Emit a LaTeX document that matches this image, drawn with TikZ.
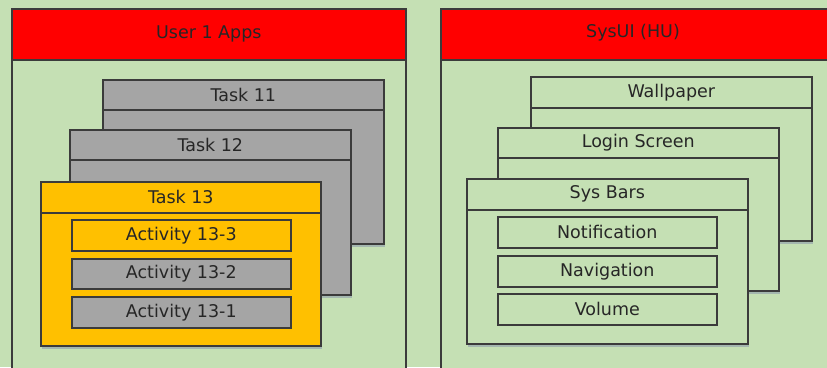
\documentclass[tikz,border=0pt]{standalone}
\usepackage{fontspec}
\setmainfont{DejaVu Sans}
\usetikzlibrary{shadows}
\definecolor{bggreen}{HTML}{C5E0B4}
\definecolor{hdred}{HTML}{FF0000}
\definecolor{taskgray}{HTML}{A5A5A5}
\definecolor{taskgold}{HTML}{FFC000}
\definecolor{edgegray}{HTML}{3B3B3B}
\definecolor{txtgray}{HTML}{262626}
\tikzset{
  box/.style={draw=edgegray,line width=1.6pt,anchor=north west,inner sep=0pt,
    text=txtgray,font=\fontsize{17.5}{19}\selectfont},
  win/.style={box,drop shadow={shadow xshift=1pt,shadow yshift=-3pt,
    fill=blue!30!gray,opacity=.3}},
}
\begin{document}
\begin{tikzpicture}[x=1pt,y=-1pt]
\useasboundingbox (0,0) rectangle (827,367);
\clip (0,0) rectangle (827,367);
\fill[bggreen] (0,0) rectangle (827,367);

% user apps
\node[box,fill=bggreen,minimum width=394pt,minimum height=400pt] (apps) at (11,8) {};
\node[box,fill=hdred,minimum width=394pt,minimum height=51pt] (appshd) at (apps.north west) {User 1 Apps};

\node[win,fill=taskgray,minimum width=281pt,minimum height=164pt] (t11) at (102,79) {};
\node[box,fill=taskgray,minimum width=281pt,minimum height=30pt] (t11hd) at (t11.north west) {Task 11};
\node[win,fill=taskgray,minimum width=281pt,minimum height=165pt] (t12) at (69,129) {};
\node[box,fill=taskgray,minimum width=281pt,minimum height=30pt] (t12hd) at (t12.north west) {Task 12};
\node[win,fill=taskgold,minimum width=280pt,minimum height=164pt] (t13) at (40,181) {};
\node[box,fill=taskgold,minimum width=280pt,minimum height=31pt] (t13hd) at (t13.north west) {Task 13};

\node[box,fill=taskgold,minimum width=219pt,minimum height=31pt] (act3) at (71,219) {Activity 13-3};
\node[box,fill=taskgray,minimum width=219pt,minimum height=30pt] (act2) at (71,258) {Activity 13-2};
\node[box,fill=taskgray,minimum width=219pt,minimum height=31pt] (act1) at (71,296) {Activity 13-1};

% sysui
\node[box,fill=bggreen,minimum width=420pt,minimum height=400pt] (sysui) at (440,8) {};
\node[box,fill=hdred,minimum width=420pt,minimum height=51pt] (sysuihd) at (sysui.north west) {};
\node[text=txtgray,font=\fontsize{17.5}{19}\selectfont] (sysuittl) at (633,33) {SysUI (HU)};

\node[win,fill=bggreen,minimum width=281pt,minimum height=164pt] (wall) at (530,76) {};
\node[box,fill=bggreen,minimum width=281pt,minimum height=31pt] (wallhd) at (wall.north west) {Wallpaper};
\node[win,fill=bggreen,minimum width=281pt,minimum height=163pt] (login) at (497,127) {};
\node[box,fill=bggreen,minimum width=281pt,minimum height=30pt] (loginhd) at (login.north west) {Login Screen};
\node[win,fill=bggreen,minimum width=281pt,minimum height=165pt] (bars) at (466,178) {};
\node[box,fill=bggreen,minimum width=281pt,minimum height=31pt] (barshd) at (bars.north west) {Sys Bars};

\foreach \y/\name/\txt in {216/notif/Notification,255/navi/Navigation,293/vol/Volume}
  \node[box,fill=bggreen,minimum width=219pt,minimum height=31pt] (\name) at (497,\y) {\txt};
\end{tikzpicture}
\end{document}
